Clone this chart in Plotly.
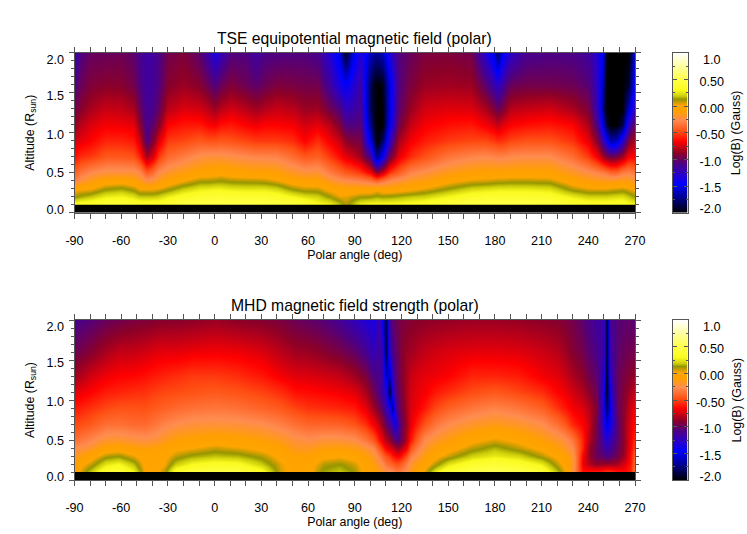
import plotly.graph_objects as go

W, H = 747, 534
altitudes = [0.0, 0.1, 0.105, 0.2, 0.3, 0.4, 0.5, 0.7, 0.9, 1.1, 1.3, 1.6, 2.0]
base = [-2.0, -2.0]

angles_top = [-90, -86, -80, -70, -60, -52, -48, -44, -40, -36, -30, -20, -10, -4, 0, 4, 10, 20, 26, 32, 40, 50,
              58, 66, 74, 80, 84, 88, 94, 100, 104, 108, 112, 118, 126, 135, 150, 165, 174, 179, 182, 185, 190,
              200, 215, 230, 240, 246, 250, 252, 254, 258, 262, 266, 270]
columns_top = [
    [.35, .12, 0, -.3, -.41, -.62, -.74, -.88, -.96, -1.07, -1.23],
    [.38, .16, .02, -.2, -.33, -.55, -.7, -.79, -.89, -.99, -1.07],
    [.4, .2, .03, -.12, -.25, -.52, -.65, -.72, -.82, -.92, -1.0],
    [.45, .28, .12, -.03, -.2, -.44, -.57, -.67, -.76, -.89, -.99],
    [.45, .3, .15, -.02, -.2, -.44, -.57, -.68, -.77, -.9, -.98],
    [.42, .25, .1, -.05, -.2, -.46, -.6, -.7, -.82, -.96, -1.03],
    [.4, .2, .03, -.12, -.25, -.57, -.74, -.88, -.98, -1.07, -1.11],
    [.4, .2, .03, -.22, -.43, -.82, -1.07, -1.11, -1.13, -1.15, -1.17],
    [.4, .2, .03, -.2, -.36, -.72, -.92, -1.03, -1.1, -1.13, -1.15],
    [.4, .22, .05, -.12, -.24, -.52, -.72, -.9, -1.0, -1.07, -1.09],
    [.42, .28, .1, -.05, -.17, -.38, -.52, -.65, -.79, -.9, -.96],
    [.5, .36, .2, .03, -.1, -.3, -.49, -.6, -.72, -.85, -.92],
    [.52, .4, .26, .11, -.05, -.22, -.44, -.6, -.74, -.9, -1.03],
    [.52, .41, .27, .11, -.03, -.2, -.46, -.65, -.79, -.99, -1.19],
    [.52, .42, .28, .12, -.02, -.2, -.46, -.67, -.85, -1.07, -1.35],
    [.52, .42, .28, .13, 0, -.2, -.44, -.62, -.79, -.99, -1.23],
    [.52, .41, .26, .11, -.03, -.22, -.46, -.6, -.74, -.92, -1.07],
    [.52, .4, .25, .1, -.05, -.25, -.49, -.65, -.79, -.98, -1.07],
    [.52, .4, .25, .1, -.06, -.27, -.52, -.68, -.84, -1.03, -1.16],
    [.52, .4, .25, .09, -.06, -.27, -.52, -.65, -.8, -.98, -1.09],
    [.5, .38, .22, .05, -.08, -.28, -.52, -.65, -.76, -.93, -1.08],
    [.47, .3, .12, -.03, -.15, -.36, -.55, -.67, -.79, -.94, -1.07],
    [.42, .25, .08, -.06, -.2, -.44, -.65, -.74, -.85, -.96, -1.07],
    [.32, .22, .08, -.06, -.18, -.41, -.55, -.7, -.84, -.96, -1.11],
    [.3, .13, 0, -.15, -.3, -.52, -.67, -.79, -.96, -1.15, -1.31],
    [.2, .05, -.03, -.22, -.38, -.62, -.76, -.92, -1.07, -1.35, -1.53],
    [.1, .05, -.05, -.24, -.43, -.7, -.88, -1.07, -1.23, -1.44, -1.95],
    [.18, .08, -.05, -.25, -.46, -.74, -.92, -1.07, -1.19, -1.35, -1.58],
    [.3, .12, -.05, -.28, -.52, -.84, -.95, -1.05, -1.12, -1.17, -1.31],
    [.33, .13, -.05, -.33, -.65, -1.12, -1.53, -1.74, -1.84, -1.84, -1.6],
    [.33, .16, 0, -.41, -.85, -1.74, -2, -2, -2, -2, -1.69],
    [.33, .14, -.05, -.33, -.74, -1.4, -1.8, -2, -2, -1.95, -1.6],
    [.33, .15, -.05, -.25, -.52, -.96, -1.23, -1.44, -1.5, -1.5, -1.31],
    [.33, .17, -.03, -.2, -.41, -.7, -.82, -.96, -1.03, -1.07, -1.07],
    [.35, .2, 0, -.14, -.27, -.55, -.67, -.76, -.85, -.93, -.99],
    [.38, .22, .05, -.1, -.22, -.46, -.59, -.67, -.74, -.85, -.93],
    [.47, .3, .14, 0, -.12, -.33, -.52, -.62, -.71, -.84, -.92],
    [.52, .38, .22, .06, -.07, -.27, -.49, -.6, -.72, -.85, -.96],
    [.52, .4, .24, .07, -.06, -.25, -.49, -.67, -.82, -1.03, -1.31],
    [.52, .4, .25, .08, -.05, -.27, -.52, -.72, -.92, -1.19, -1.53],
    [.52, .4, .26, .09, -.05, -.28, -.55, -.77, -.99, -1.27, -1.79],
    [.52, .4, .26, .09, -.05, -.28, -.54, -.71, -.92, -1.15, -1.48],
    [.52, .4, .26, .1, -.05, -.25, -.49, -.65, -.79, -.99, -1.27],
    [.52, .4, .26, .1, -.05, -.24, -.46, -.62, -.76, -.96, -1.11],
    [.5, .38, .24, .09, -.05, -.24, -.46, -.6, -.74, -.96, -1.09],
    [.42, .27, .1, -.03, -.15, -.36, -.54, -.65, -.82, -.98, -1.09],
    [.38, .22, .05, -.1, -.22, -.52, -.7, -.82, -.93, -1.05, -1.15],
    [.37, .22, .05, -.12, -.27, -.67, -.92, -1.11, -1.23, -1.27, -1.31],
    [.37, .22, .05, -.13, -.3, -.84, -1.23, -1.58, -1.79, -1.69, -1.53],
    [.37, .22, .05, -.13, -.33, -.9, -1.4, -1.9, -2, -2, -2],
    [.37, .23, .06, -.13, -.38, -.96, -1.64, -2, -2, -2, -2],
    [.38, .24, .07, -.12, -.38, -.93, -1.58, -2, -2, -2, -2],
    [.38, .25, .08, -.1, -.3, -.82, -1.27, -1.84, -2, -2, -2],
    [.33, .2, .05, -.13, -.27, -.65, -.92, -1.23, -1.58, -1.9, -2],
    [.3, .13, 0, -.18, -.33, -.65, -.79, -.96, -1.15, -1.31, -1.48],
]

angles_mhd = [-90, -80, -70, -62, -52, -45, -38, -32, -25, -15, 0, 15, 30, 42, 52, 60, 70, 80, 90, 97, 102, 106, 108,
              110, 112, 114, 116, 118, 120, 123, 126, 130, 135, 142, 150, 165, 180, 195, 210, 220, 225, 230, 236,
              240, 245, 249, 250.5, 252, 253.5, 255, 259, 263, 267, 270]
columns_mhd = [
    [-.02, -.05, -.15, -.25, -.36, -.49, -.6, -.71, -.84, -.97, -1.1],
    [.2, .08, -.03, -.17, -.27, -.44, -.54, -.65, -.74, -.9, -1.05],
    [.4, .25, .1, -.05, -.18, -.36, -.49, -.59, -.68, -.82, -.99],
    [.45, .3, .13, -.03, -.17, -.35, -.46, -.57, -.65, -.77, -.96],
    [.3, .18, .05, -.08, -.2, -.38, -.46, -.55, -.64, -.76, -.93],
    [.03, 0, -.03, -.1, -.22, -.38, -.47, -.54, -.62, -.74, -.92],
    [0, -.01, -.03, -.08, -.2, -.33, -.43, -.51, -.59, -.71, -.9],
    [.1, .03, 0, -.04, -.14, -.28, -.41, -.49, -.57, -.7, -.89],
    [.38, .2, .09, 0, -.09, -.24, -.38, -.48, -.55, -.7, -.89],
    [.45, .3, .15, .03, -.06, -.21, -.35, -.46, -.52, -.68, -.88],
    [.5, .35, .19, .08, -.03, -.2, -.33, -.44, -.52, -.67, -.85],
    [.48, .33, .17, .05, -.05, -.21, -.35, -.46, -.55, -.68, -.88],
    [.35, .2, .1, 0, -.09, -.24, -.4, -.5, -.6, -.72, -.9],
    [.07, .05, 0, -.06, -.14, -.3, -.44, -.55, -.67, -.79, -.93],
    [-.02, -.03, -.07, -.15, -.21, -.36, -.5, -.62, -.71, -.84, -.98],
    [0, -.02, -.08, -.15, -.23, -.4, -.54, -.63, -.72, -.85, -1.01],
    [.15, .1, 0, -.1, -.2, -.4, -.55, -.65, -.74, -.89, -1.05],
    [.2, .13, .02, -.09, -.2, -.41, -.57, -.67, -.77, -.94, -1.12],
    [.12, .07, -.01, -.12, -.23, -.46, -.6, -.71, -.84, -1.01, -1.23],
    [0, -.03, -.08, -.18, -.33, -.55, -.7, -.82, -.93, -1.11, -1.31],
    [-.05, -.1, -.16, -.27, -.44, -.67, -.84, -.96, -1.07, -1.23, -1.35],
    [-.12, -.2, -.3, -.46, -.62, -.79, -.97, -1.11, -1.1, -1.13, -1.19],
    [-.15, -.25, -.38, -.55, -.71, -.88, -1.07, -1.2, -1.2, -1.27, -1.45],
    [-.2, -.33, -.46, -.65, -.79, -.99, -1.19, -1.27, -1.55, -1.9, -1.9],
    [-.22, -.38, -.52, -.71, -.88, -1.11, -1.35, -1.95, -1.58, -1.25, -1.12],
    [-.25, -.41, -.6, -.76, -.96, -1.23, -1.7, -1.3, -1.2, -1.1, -1.03],
    [-.3, -.46, -.65, -.84, -1.05, -1.4, -1.15, -1.08, -1.05, -1.03, -.99],
    [-.3, -.46, -.65, -.85, -1.07, -1.11, -1.03, -.99, -.98, -.96, -.96],
    [-.28, -.41, -.6, -.79, -.96, -.99, -.94, -.92, -.9, -.9, -.93],
    [-.22, -.3, -.46, -.67, -.79, -.84, -.82, -.81, -.82, -.85, -.92],
    [-.13, -.18, -.3, -.46, -.6, -.7, -.72, -.74, -.76, -.84, -.9],
    [-.03, -.1, -.2, -.3, -.41, -.57, -.67, -.7, -.72, -.8, -.89],
    [.05, -.02, -.1, -.18, -.25, -.46, -.6, -.67, -.7, -.77, -.88],
    [.28, .1, 0, -.08, -.17, -.33, -.49, -.6, -.68, -.74, -.87],
    [.42, .25, .08, -.02, -.1, -.25, -.41, -.55, -.65, -.72, -.86],
    [.52, .38, .21, .09, 0, -.17, -.33, -.48, -.57, -.7, -.85],
    [.55, .42, .27, .17, .06, -.13, -.28, -.44, -.57, -.7, -.85],
    [.52, .38, .22, .09, 0, -.17, -.33, -.49, -.59, -.71, -.86],
    [.42, .27, .1, 0, -.09, -.24, -.41, -.55, -.67, -.75, -.88],
    [.18, .08, 0, -.08, -.17, -.36, -.54, -.65, -.71, -.79, -.9],
    [.05, 0, -.07, -.15, -.22, -.44, -.6, -.68, -.75, -.84, -.92],
    [-.2, -.15, -.17, -.25, -.33, -.57, -.67, -.74, -.82, -.9, -.96],
    [-.62, -.67, -.65, -.57, -.57, -.65, -.72, -.81, -.88, -.96, -1.03],
    [-.6, -.79, -.85, -.84, -.79, -.74, -.79, -.88, -.96, -1.03, -1.09],
    [-.57, -.88, -.99, -.99, -.97, -.96, -.92, -.98, -1.03, -1.09, -1.15],
    [-.57, -.84, -1.03, -1.11, -1.15, -1.23, -1.27, -1.27, -1.23, -1.19, -1.19],
    [-.52, -.85, -1.07, -1.15, -1.23, -1.4, -1.53, -1.53, -1.4, -1.25, -1.2],
    [-.52, -.85, -1.07, -1.19, -1.31, -1.53, -1.79, -2, -2, -2, -2],
    [-.52, -.85, -1.07, -1.15, -1.23, -1.4, -1.53, -1.45, -1.3, -1.2, -1.15],
    [-.54, -.84, -1.03, -1.11, -1.16, -1.31, -1.31, -1.23, -1.19, -1.15, -1.11],
    [-.6, -.82, -.96, -.99, -1.03, -1.03, -.99, -.99, -.99, -1.03, -1.05],
    [-.62, -.72, -.82, -.85, -.85, -.85, -.87, -.9, -.93, -.98, -1.03],
    [-.57, -.6, -.62, -.65, -.67, -.7, -.74, -.82, -.89, -.96, -1.03],
    [-.25, -.33, -.36, -.46, -.52, -.62, -.67, -.76, -.85, -.96, -1.05],
]

bar_levels = [-2.0, -1.75, -1.45, -1.27, -1.07, -0.88, -0.65, -0.47, -0.25, -0.08, 0.03, 0.13, 0.2, 0.3, 0.5, 0.75, 1.0]
bar_colors = ['#000000', '#000078', '#0000ff', '#2a00c8', '#500080', '#8c0028', '#ff0000', '#ff5014', '#ff8c50',
              '#ffa000', '#ffa500', '#969600', '#cdcd0a', '#fafa1e', '#ffff46', '#ffffa0', '#ffffff']
colorscale = [[(v + 2) / 3, c] for v, c in zip(bar_levels, bar_colors)]

x_ticks = [-90, -60, -30, 0, 30, 60, 90, 120, 150, 180, 210, 240, 270]
x_labels = ['-90', '-60', '-30', '0', '30', '60', '90', '120', '150', '180', '210', '240', '270']
alt_label_pos = [0.04, 0.496, 0.975, 1.467, 1.917]
alt_labels = ['0.0', '0.5', '1.0', '1.5', '2.0']
bar_label_pos = [0.88, 0.456, -0.04, -0.543, -1.044, -1.537, -1.93]
bar_labels = ['\u00a0\u00a01.0', '\u00a00.50', '\u00a00.00', '-0.50', '\u00a0-1.0', '\u00a0-1.5', '\u00a0-2.0']

FONT = 'Liberation Sans, Arial, sans-serif'
AX = '#555555'
L, R = 74.5 / W, 635 / W
BL, BR = 672.5 / W, 687.5 / W


def transpose(cols):
    return [list(r) for r in zip(*[base + c for c in cols])]


fig = go.Figure()
panels = [
    (1, angles_top, columns_top, 52.7, 'TSE equipotential magnetic field (polar)'),
    (2, angles_mhd, columns_mhd, 320.0, 'MHD magnetic field strength (polar)'),
]
layout = {}
annotations = []
for i, ang, cols, top, title in panels:
    n = 4 * (i - 1)
    xa, ya, xb, yb, yo, yc = [f'{a}{n + k}' for a, k in
                               (('x', 1), ('y', 1), ('x', 2), ('y', 2), ('y', 3), ('y', 4))]
    dom = [1 - (top + 160) / H, 1 - top / H]
    fig.add_trace(go.Heatmap(x=ang, y=altitudes, z=transpose(cols), xaxis=xa, yaxis=ya, zmin=-2, zmax=1,
                             colorscale=colorscale, zsmooth='best', showscale=False,
                             hovertemplate='%{x}°, %{y} Rsun: %{z}<extra></extra>'))
    fig.add_trace(go.Scatter(x=[None], y=[None], xaxis=xa, yaxis=yo, showlegend=False, hoverinfo='skip'))
    fig.add_trace(go.Heatmap(x=[0, 1], y=bar_levels, z=[[v, v] for v in bar_levels], xaxis=xb, yaxis=yb,
                             zmin=-2, zmax=1, colorscale=colorscale, zsmooth='best', showscale=False,
                             hoverinfo='skip'))
    fig.add_trace(go.Scatter(x=[None], y=[None], xaxis=xb, yaxis=yc, showlegend=False, hoverinfo='skip'))
    layout[f'xaxis{n + 1}'] = dict(
        domain=[L, R], range=[-90, 270], anchor=ya, tickmode='array', tickvals=x_ticks, ticktext=x_labels,
        ticks='outside', ticklen=5, automargin=False,
        tickcolor=AX, linecolor=AX, showline=True, mirror='allticks', showgrid=False, zeroline=False,
        ticklabelstandoff=11, minor=dict(tickmode='array', tickvals=list(range(-90, 271, 10)), ticks='outside',
                                         ticklen=3, tickcolor=AX, showgrid=False),
        title=dict(text='Polar angle (deg)', standoff=3, font=dict(size=12.4)))
    layout[f'yaxis{n + 1}'] = dict(
        domain=dom, range=[0, 2], anchor=xa, tickmode='array', tickvals=[0, .5, 1, 1.5, 2], ticks='outside',
        ticklen=5, tickcolor=AX, linecolor=AX, showline=True, mirror='allticks', showgrid=False, zeroline=False,
        showticklabels=False, automargin=False,
        minor=dict(tickmode='array', tickvals=[k / 10 for k in range(21)], ticks='outside', ticklen=3,
                   tickcolor=AX, showgrid=False))
    layout[f'yaxis{n + 3}'] = dict(
        domain=dom, range=[0, 2], overlaying=ya, anchor=xa, side='left', tickmode='array', tickvals=alt_label_pos,
        ticktext=alt_labels, ticks='outside', ticklen=7, tickcolor='rgba(0,0,0,0)', showline=False, showgrid=False,
        zeroline=False, automargin=False,
        title=dict(text='Altitude (R<sub>sun</sub>)', standoff=9, font=dict(size=12.4)))
    layout[f'xaxis{n + 2}'] = dict(domain=[BL, BR], range=[0, 1], anchor=yb, showticklabels=False, ticks='',
                                   showgrid=False, zeroline=False, showline=True, mirror=True, linecolor=AX,
                                   automargin=False)
    layout[f'yaxis{n + 2}'] = dict(
        domain=dom, range=[-2, 1], anchor=xb, tickmode='array', tickvals=[-2, -1.5, -1, -.5, 0, .5, 1],
        ticks='inside', ticklen=4, tickcolor=AX, showticklabels=False, linecolor=AX, showline=True, mirror='allticks',
        showgrid=False, zeroline=False, automargin=False,
        minor=dict(tickmode='array', tickvals=[-1.75, -1.25, -.75, -.25, .25, .75], ticks='inside', ticklen=2,
                   tickcolor=AX, showgrid=False))
    layout[f'yaxis{n + 4}'] = dict(
        domain=dom, range=[-2, 1], overlaying=yb, anchor=xb, side='right', tickmode='array', tickvals=bar_label_pos,
        ticktext=bar_labels, ticks='outside', ticklen=5, tickcolor='rgba(0,0,0,0)', showline=False, showgrid=False,
        zeroline=False, automargin=False)
    annotations.append(dict(text=title, xref='paper', yref='paper', x=354.7 / W, y=1 - (top - 14.5) / H,
                            showarrow=False, font=dict(size=15.7), xanchor='center', yanchor='middle'))
    annotations.append(dict(text='Log(B) (Gauss)', xref='paper', yref='paper', x=736 / W, y=1 - (top + 80.5) / H,
                            showarrow=False, textangle=-90, font=dict(size=12.4), xanchor='center',
                            yanchor='middle'))

fig.update_layout(width=W, height=H, margin=dict(l=0, r=0, t=0, b=0, autoexpand=False), paper_bgcolor='white',
                  plot_bgcolor='white', font=dict(family=FONT, size=12.6, color='black'), showlegend=False,
                  annotations=annotations, **layout)
fig.write_html('out.html', post_script="document.body.style.margin='0';", config={'displayModeBar': False})
